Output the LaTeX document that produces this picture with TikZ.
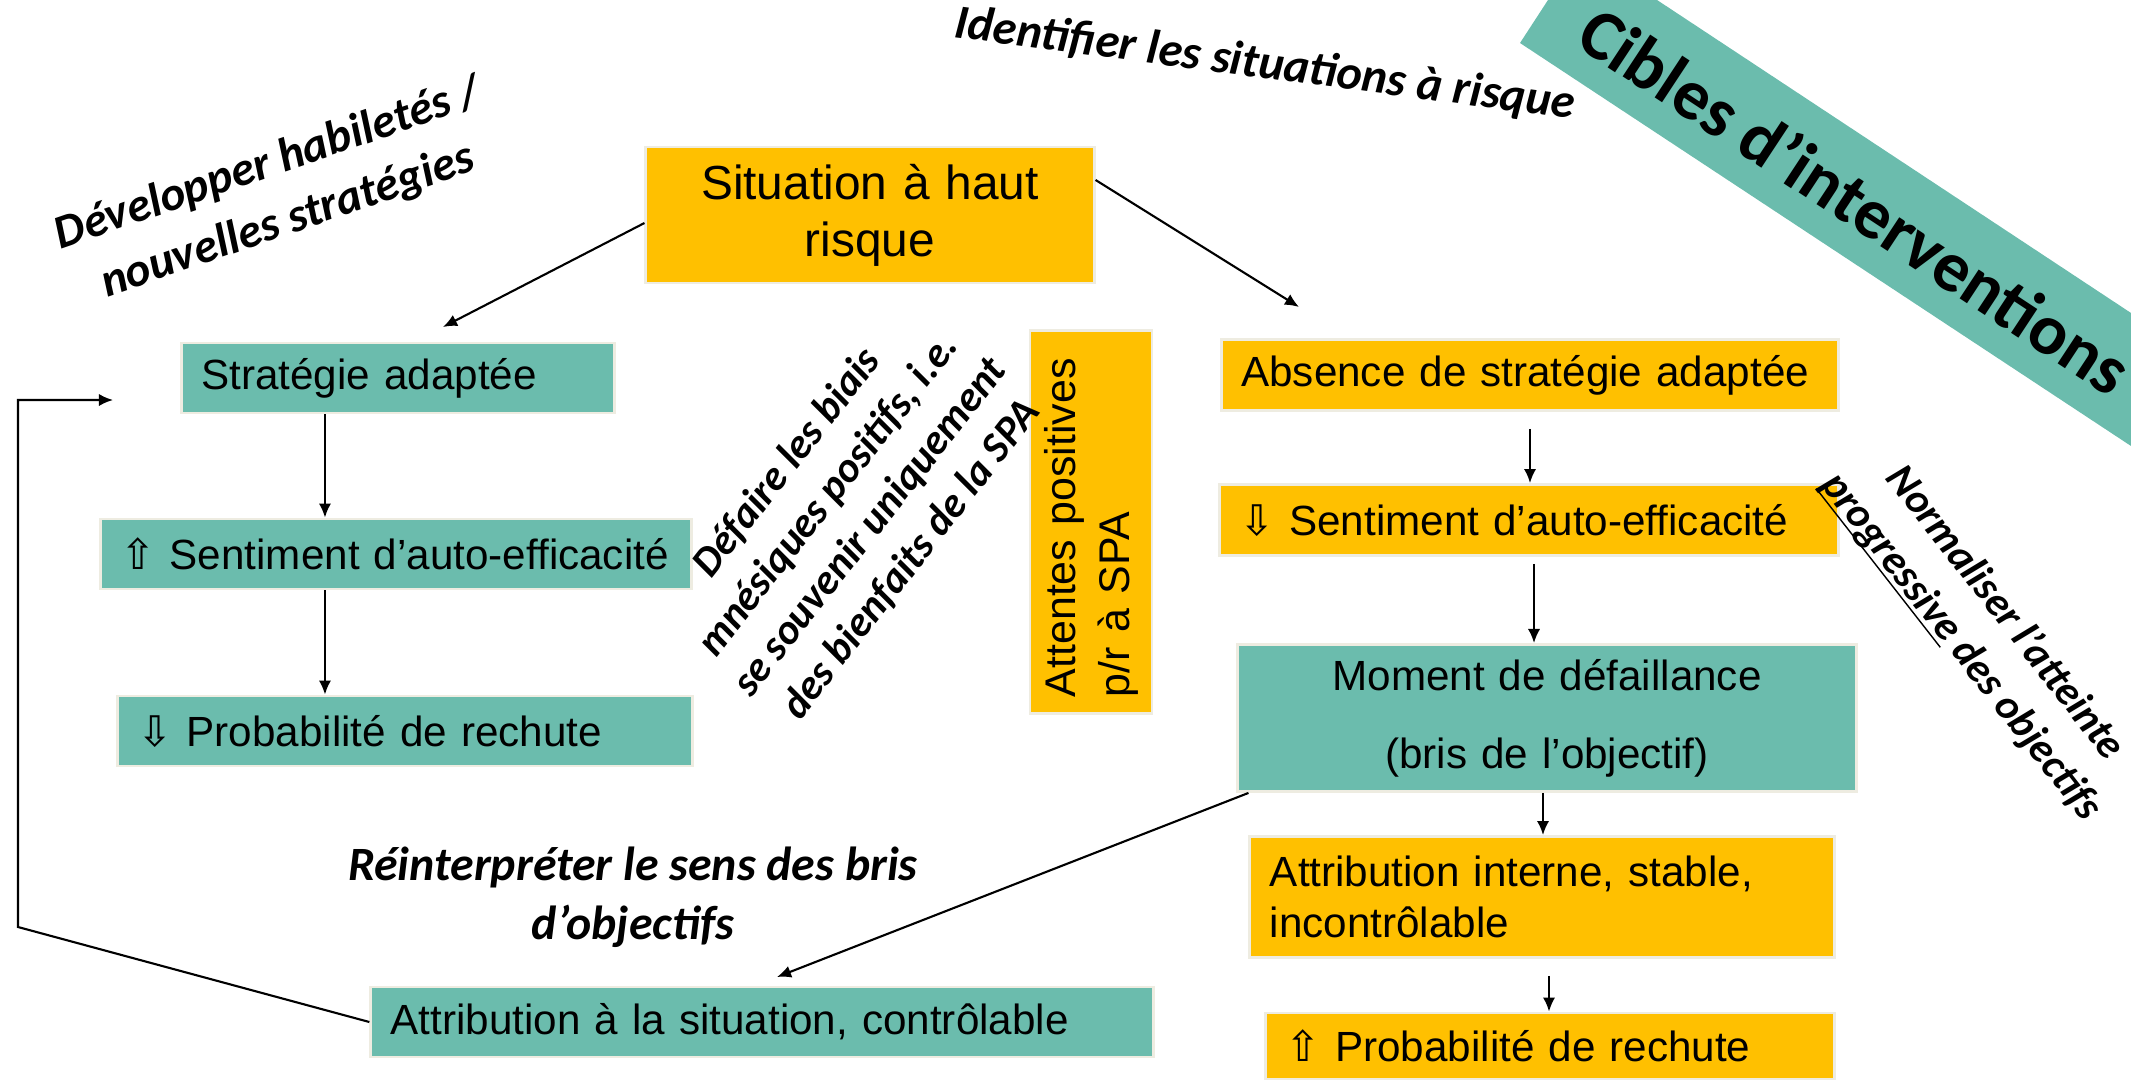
\documentclass[tikz,border=0pt]{standalone}
\usepackage{fontspec}
\setmainfont{Liberation Sans}
\newfontfamily\calfont{Carlito}
\newfontfamily\symfont{DejaVu Sans}
\usetikzlibrary{arrows.meta}
\definecolor{tealfill}{RGB}{107,188,173}
\definecolor{goldfill}{RGB}{255,192,0}
\definecolor{boxedge}{RGB}{238,236,225}
\newcommand{\arrup}{{\symfont ⇧}}
\newcommand{\arrdown}{{\symfont ⇩}}

\begin{document}
\begin{tikzpicture}[
    x=0.01cm, y=-0.01cm,
    every node/.style={font=\fontsize{12}{14.4}\selectfont},
    box/.style={rectangle, draw=boxedge, line width=0.8pt, inner xsep=0.2cm, inner ysep=0pt, align=left},
    tealbox/.style={box, fill=tealfill},
    goldbox/.style={box, fill=goldfill},
    note/.style 2 args={font=\calfont\bfseries\itshape\fontsize{#1}{#2}\selectfont, align=center},
    arr/.style={-{Latex[length=4pt,width=3.5pt]}, line width=0.6pt}
]
    \useasboundingbox (0,0) rectangle (2131,1079);

    % Band
    \fill[tealfill] (1548,0) -- (1520,43) -- (2131,446) -- (2131,313) -- (1657,0) -- cycle;
    \node[font=\calfont\bfseries\fontsize{20.3}{25}\selectfont, rotate=-33.4] (cibles) at (1856,200) {Cibles d’interventions};

    % Top
    \node[goldbox, align=center, text width=4.08cm, minimum height=1.36cm, font=\fontsize{13.6}{16.2}\selectfont] (sit) at (870,215) {Situation à haut\\risque};

    % Left column
    \node[tealbox, text width=3.93cm, minimum height=0.7cm] (strat) at (398,378) {Stratégie adaptée};
    \node[tealbox, text width=5.51cm, minimum height=0.7cm] (seA) at (396,554) {\arrup{} Sentiment d’auto-efficacité};
    \node[tealbox, text width=5.35cm, minimum height=0.7cm] (probA) at (405,731) {\arrdown{} Probabilité de rechute};
    \node[tealbox, text width=7.42cm, minimum height=0.7cm] (attA) at (762,1022) {Attribution à la situation, contrôlable};

    % Middle
    \node[goldbox, rotate=90, inner xsep=0.16cm, text width=3.5cm, minimum height=1.22cm, font=\fontsize{12.2}{15.4}\selectfont] (att) at (1091,522) {Attentes positives\\p/r à SPA};

    % Right column
    \node[goldbox, text width=5.77cm, minimum height=0.71cm] (abs) at (1530,375) {Absence de stratégie adaptée};
    \node[goldbox, text width=5.78cm, minimum height=0.71cm] (seB) at (1529,520) {\arrdown{} Sentiment d’auto-efficacité};
    \node[tealbox, align=center, text width=5.78cm, minimum height=1.47cm, font=\fontsize{12}{22.2}\selectfont] (mom) at (1547,718) {Moment de défaillance\\(bris de l’objectif)};
    \node[goldbox, text width=5.44cm, minimum height=1.21cm] (attI) at (1542,897) {Attribution interne, stable,\\incontrôlable};
    \node[goldbox, text width=5.28cm, minimum height=0.66cm] (probB) at (1550,1046) {\arrup{} Probabilité de rechute};

    % Notes
    \node[note={13.5}{17.2}, rotate=19] (dev) at (278,193) {Développer habiletés /\\nouvelles stratégies};
    \node[note={13.7}{16}, rotate=-7.5] (ident) at (1265,65) {Identifier les situations à risque};
    \node[note={12}{14.9}, rotate=52] (biais) at (849,511) {Défaire les biais\\mnésiques positifs, i.e.\\se souvenir uniquement\\des bienfaits de la SPA};
    \node[note={12}{15.8}, rotate=-52] (norm) at (1983,630) {Normaliser l’atteinte\\\underline{\smash{progressive}} des objectifs};
    \node[note={13.6}{16.8}] (reint) at (633,897) {Réinterpréter le sens des bris\\d’objectifs};

    % Free ends
    \coordinate (tipL) at (443,327);
    \coordinate (tipR) at (1299,307);
    \coordinate (tipA) at (777,977);
    \coordinate (fbA) at (18,927);
    \coordinate (fbB) at (18,400);
    \coordinate (fbEnd) at (113,400);

    % Connections
    \draw[arr] ([yshift=-0.08cm]sit.west) -- (tipL);
    \draw[arr] ([yshift=0.35cm]sit.east) -- (tipR);

    \draw[arr] ([xshift=-0.73cm]strat.south) -- ([xshift=-0.73cm]strat.south |- seA.north);
    \draw[arr] ([xshift=-0.71cm]seA.south) -- ([xshift=-0.71cm]seA.south |- probA.north);

    \draw[arr] ([yshift=-0.17cm]abs.south) -- (abs.south |- seB.north);
    \draw[arr] ([xshift=0.05cm,yshift=-0.07cm]seB.south) -- ([xshift=0.05cm]seB.south |- mom.north);
    \draw[arr] ([xshift=-0.04cm]mom.south) -- ([xshift=-0.04cm]mom.south |- attI.north);
    \draw[arr] ([xshift=0.07cm,yshift=-0.17cm]attI.south) -- ([xshift=0.07cm]attI.south |- probB.north);

    \draw[arr] ([xshift=0.12cm]mom.south west) -- (tipA);
    \draw[arr] (attA.west) -- (fbA) -- (fbB) -- (fbEnd);
\end{tikzpicture}
\end{document}
